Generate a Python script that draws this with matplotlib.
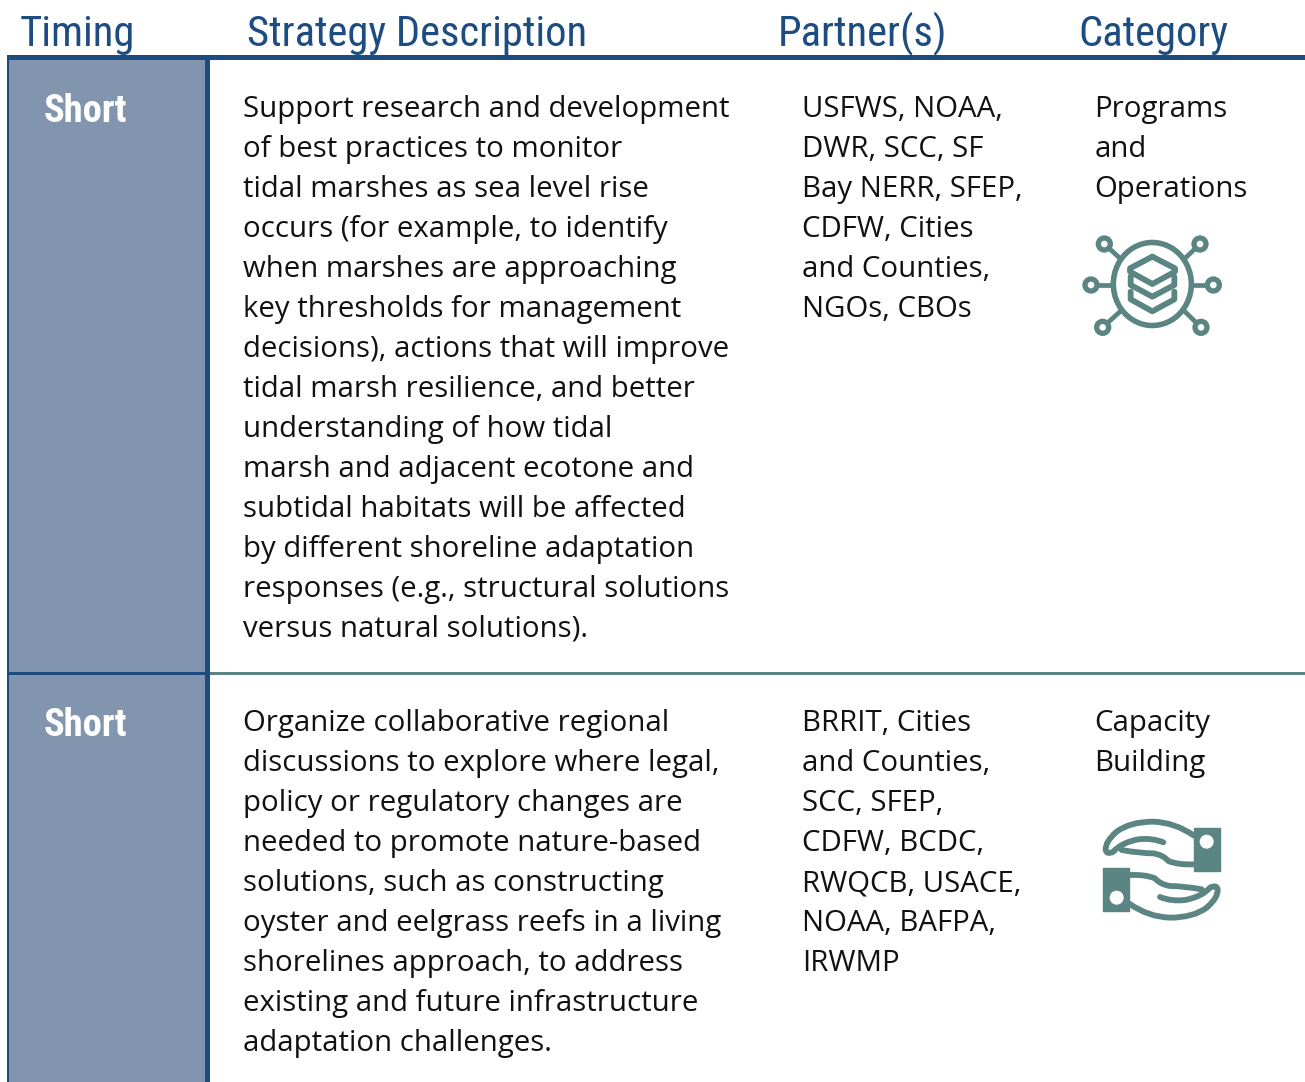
import matplotlib
matplotlib.use('Agg')
import matplotlib.pyplot as plt
from matplotlib.patches import Rectangle, Ellipse, Circle
from matplotlib.path import Path
from matplotlib.patches import PathPatch

## table text
headers = ['Timing', 'Strategy Description', 'Partner(s)', 'Category']
timing = ['Short', 'Short']
descriptions = [
    ['Support research and development', 'of best practices to monitor',
     'tidal marshes as sea level rise', 'occurs (for example, to identify',
     'when marshes are approaching', 'key thresholds for management',
     'decisions), actions that will improve', 'tidal marsh resilience, and better',
     'understanding of how tidal', 'marsh and adjacent ecotone and',
     'subtidal habitats will be affected', 'by different shoreline adaptation',
     'responses (e.g., structural solutions', 'versus natural solutions).'],
    ['Organize collaborative regional', 'discussions to explore where legal,',
     'policy or regulatory changes are', 'needed to promote nature-based',
     'solutions, such as constructing', 'oyster and eelgrass reefs in a living',
     'shorelines approach, to address', 'existing and future infrastructure',
     'adaptation challenges.'],
]
partners = [
    ['USFWS, NOAA,', 'DWR, SCC, SF', 'Bay NERR, SFEP,', 'CDFW, Cities',
     'and Counties,', 'NGOs, CBOs'],
    ['BRRIT, Cities', 'and Counties,', 'SCC, SFEP,', 'CDFW, BCDC,',
     'RWQCB, USACE,', 'NOAA, BAFPA,', 'IRWMP'],
]
categories = [['Programs', 'and', 'Operations'], ['Capacity', 'Building']]

NAVY = '#1C4C80'
PANEL = '#8196AE'
TEAL = '#5B8583'
BODY = '#111111'
HEAD_FONT = ['Roboto Condensed', 'Roboto', 'DejaVu Sans']
BODY_FONT = ['Open Sans', 'DejaVu Sans']

fig = plt.figure(figsize=(13.05, 10.82), dpi=100)
ax = fig.add_axes([0, 0, 1, 1])
ax.set_xlim(0, 1305)
ax.set_ylim(1082, 0)
ax.axis('off')

## table background and rules
ax.add_patch(Rectangle((8, 58), 198, 1024, color=PANEL, lw=0))
ax.add_patch(Rectangle((7, 55), 1298, 5, color=NAVY, lw=0))
ax.add_patch(Rectangle((7, 58), 2, 1024, color=NAVY, lw=0))
ax.add_patch(Rectangle((205, 58), 5, 1024, color=NAVY, lw=0))
ax.add_patch(Rectangle((8, 672), 198, 2.5, color=NAVY, lw=0))
ax.add_patch(Rectangle((210, 672), 1095, 2.5, color=TEAL, lw=0))

## header row
header_x = [19.2, 247.3, 777.5, 1078.5]
for x, label in zip(header_x, headers):
    ax.text(x, 46, label, color=NAVY, fontsize=30.7, family=HEAD_FONT, va='baseline')


def text_block(x, y0, lines):
    for i, line in enumerate(lines):
        ax.text(x, y0 + i * 39.95, line, color=BODY, fontsize=21.13,
                family=BODY_FONT, va='baseline')


row_base = [117.3, 731.3]
for i in range(2):
    ax.text(44, row_base[i] + 5.2, timing[i], color='white', fontsize=27.7,
            family=HEAD_FONT, weight='bold', va='baseline')
    text_block(243, row_base[i], descriptions[i])
    text_block(802.4, row_base[i], partners[i])
    text_block(1094.2, row_base[i], categories[i])


## icons are traced in zoomed coordinates, ox/oy convert them to pixels
def stroke(points, ox, oy, closed=False, lw=4.2):
    pts = [(ox + p[0] / 3, oy + p[1] / 3) for p in points]
    ax.plot([p[0] for p in pts] + ([pts[0][0]] if closed else []),
            [p[1] for p in pts] + ([pts[0][1]] if closed else []),
            color=TEAL, lw=lw, solid_joinstyle='round', solid_capstyle='round')


## network / layers icon
ox, oy = 1060, 220
ax.add_patch(Ellipse((ox + 277 / 3, oy + 192 / 3), 78, 83, fill=False, ec=TEAL, lw=4))
nodes = [(133, 72), (420, 72), (93, 195), (460, 195), (128, 322), (423, 322)]
ends = [(180, 115), (375, 115), (160, 195), (395, 195), (180, 275), (375, 275)]
for n, e in zip(nodes, ends):
    dx, dy = e[0] - n[0], e[1] - n[1]
    d = (dx ** 2 + dy ** 2) ** 0.5
    stroke([(n[0] + dx / d * 18, n[1] + dy / d * 18), e], ox, oy, lw=3.4)
    ax.add_patch(Circle((ox + n[0] / 3, oy + n[1] / 3), 6, fill=False, ec=TEAL, lw=3.8))
stroke([(277, 110), (345, 145), (345, 155), (277, 192), (210, 155), (210, 145)], ox, oy, closed=True)
stroke([(212, 170), (212, 195), (277, 230), (343, 195), (343, 170)], ox, oy)
stroke([(212, 215), (212, 238), (277, 274), (343, 238), (343, 215)], ox, oy)


## hands icon, the lower hand is the upper one turned by 180 degrees
ox, oy = 1080, 805


def hand(flip):
    def f(p):
        if flip:
            return (490 - p[0], 388 - p[1])
        return p

    def curve(pts, **kw):
        verts = [(ox + f(p)[0] / 3, oy + f(p)[1] / 3) for p in pts]
        codes = [Path.MOVETO] + [Path.CURVE3] * (len(verts) - 1)
        ax.add_patch(PathPatch(Path(verts, codes), fill=False, ec=TEAL, lw=4.2,
                               capstyle='round', joinstyle='round'))

    c1 = f((342, 68))
    c2 = f((420, 198))
    ax.add_patch(Rectangle((ox + min(c1[0], c2[0]) / 3, oy + min(c1[1], c2[1]) / 3),
                           26, 43, fc=TEAL, ec=TEAL, lw=1, joinstyle='round'))
    h = f((380, 110))
    ax.add_patch(Circle((ox + h[0] / 3, oy + h[1] / 3), 7, fc='white', ec='none', zorder=3))
    curve([(342, 92), (285, 52), (220, 50), (150, 50), (110, 80), (75, 110), (77, 135),
           (80, 150), (100, 140), (125, 112), (175, 103), (215, 98), (250, 112)])
    curve([(125, 135), (180, 145), (220, 145), (250, 150), (265, 168), (295, 180), (340, 178)])


hand(False)
hand(True)

plt.savefig('out.png', dpi=100)
